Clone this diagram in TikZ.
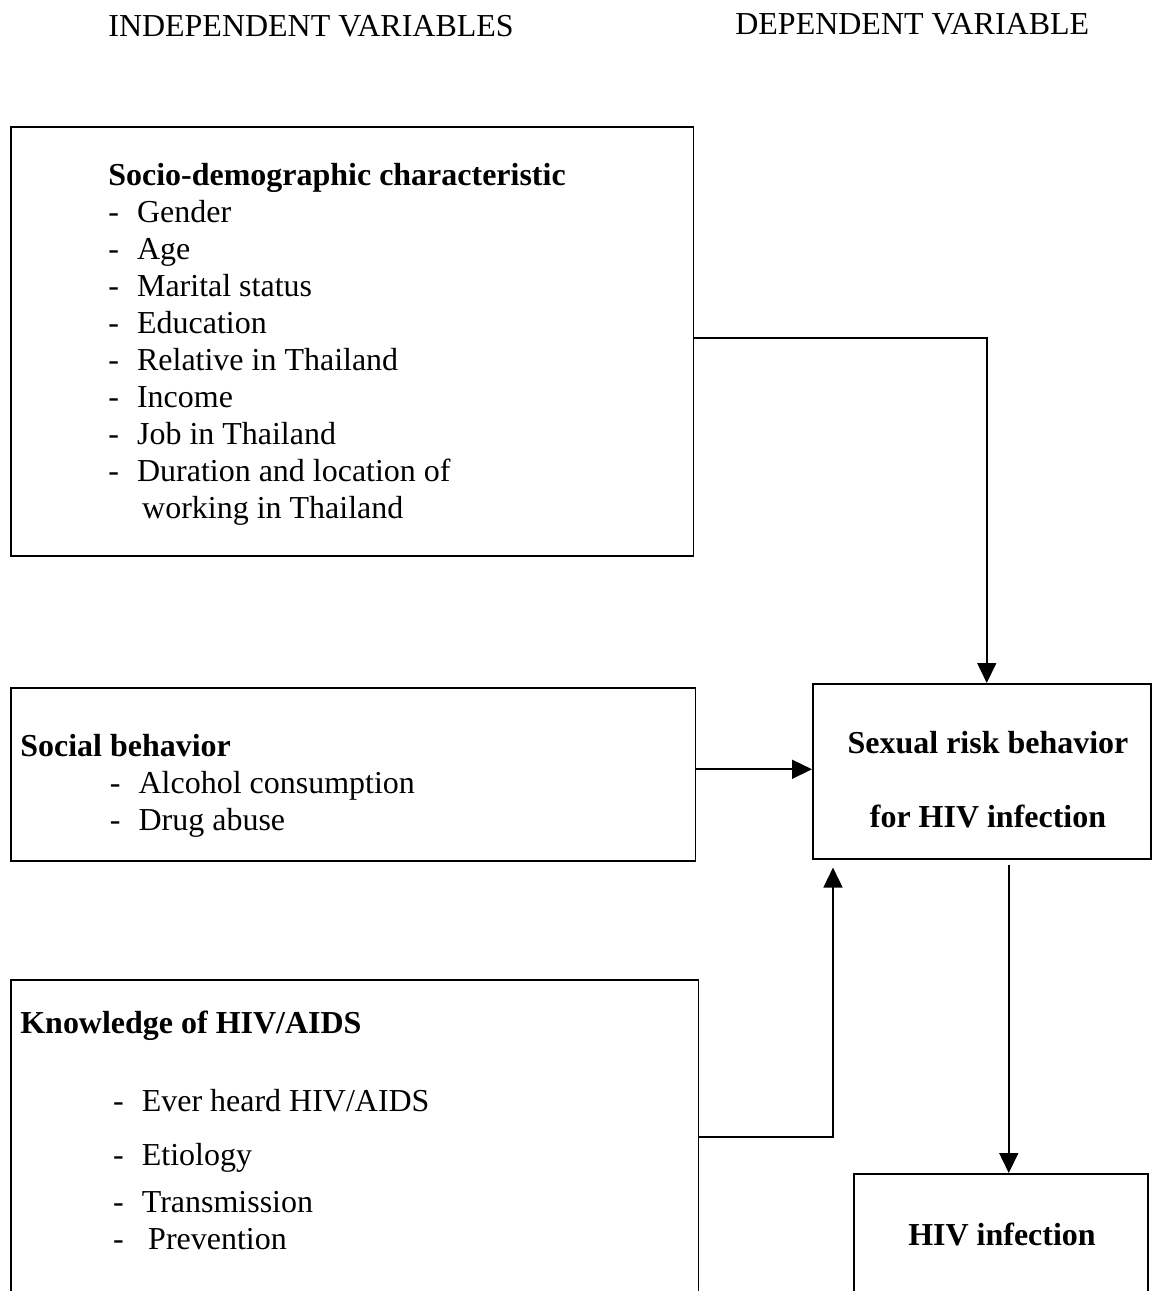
\documentclass[tikz,border=0pt]{standalone}
\usepackage{fontspec}
\setmainfont{Liberation Serif}
\usetikzlibrary{arrows.meta}
\newcommand{\itm}[1]{\makebox[0.9em][l]{-}#1}

\begin{document}
\begin{tikzpicture}[x=0.02cm,y=-0.02cm,
  box/.style={draw,line width=0.9pt,anchor=north west,inner sep=0},
  txt/.style={inner sep=0,font=\fontsize{18.2}{21.06}\selectfont},
  arr/.style={line width=0.9pt,-{Triangle[length=4mm,width=3.8mm]}}]
\useasboundingbox (0,0) rectangle (1152,1291);
\clip (0,0) rectangle (1152,1291);
\fill[white] (0,0) rectangle (1152,1291);
% Headings
\node[txt,anchor=base west] (indep-head) at (108,37) {INDEPENDENT VARIABLES};
\node[txt,anchor=base west] (dep-head) at (735,35) {DEPENDENT VARIABLE};
% Independent variables
\node[box,minimum width=13.66cm,minimum height=8.58cm] (socio-box) at (10,126) {};
\node[txt,anchor=north west,align=left] (socio-text) at (108,163) {\textbf{Socio-demographic characteristic}\\
  \itm{Gender}\\ \itm{Age}\\ \itm{Marital status}\\ \itm{Education}\\
  \itm{Relative in Thailand}\\ \itm{Income}\\ \itm{Job in Thailand}\\
  \itm{Duration and location of}\\ \hspace*{1.06em}working in Thailand};
\node[box,minimum width=13.7cm,minimum height=3.46cm] (social-box) at (10,687) {};
\node[txt,anchor=north west,align=left] (social-text) at (20,734) {\textbf{Social behavior}\\
  \hspace*{2.8em}\itm{Alcohol consumption}\\ \hspace*{2.8em}\itm{Drug abuse}};
\node[box,minimum width=13.76cm,minimum height=6.28cm] (know-box) at (10,979) {};
\node[txt,anchor=north west,align=left] (know-text) at (20,1011) {\textbf{Knowledge of HIV/AIDS}\\[23.3pt]
  \hspace*{2.9em}\itm{Ever heard HIV/AIDS}\\[9.7pt] \hspace*{2.9em}\itm{Etiology}\\[5.7pt]
  \hspace*{2.9em}\itm{Transmission}\\ \hspace*{2.9em}\itm{\hspace{0.2em}Prevention}};
% Dependent variable
\node[box,minimum width=6.76cm,minimum height=3.5cm] (risk-box) at (812,683) {};
\node[txt,anchor=north,align=center,font=\fontsize{18.2}{21.06}\selectfont\bfseries] (risk-text) at (988,731) {Sexual risk behavior\\[21.06pt] for HIV infection};
\node[box,minimum width=5.88cm,minimum height=2.48cm] (hiv-box) at (853,1173) {};
\node[txt,anchor=base,font=\fontsize{18.2}{21.06}\selectfont\bfseries] (hiv-text) at (1002,1245) {HIV infection};
% Arrows
\draw[arr] ([yshift=0.6mm]socio-box.east) -| ([xshift=1mm]risk-box.north);
\draw[arr] ([yshift=1mm]social-box.east) -- ([yshift=1mm]social-box.east -| risk-box.west);
\coordinate (risk-foot) at ([xshift=4.2mm,yshift=-1.6mm]risk-box.south west);
\draw[arr] (know-box.east) -| (risk-foot);
\coordinate (hiv-top) at ([xshift=1.6mm]hiv-box.north |- risk-box.south);
\draw[arr] ([yshift=-1mm]hiv-top) -- ([xshift=1.6mm]hiv-box.north);
\end{tikzpicture}
\end{document}
